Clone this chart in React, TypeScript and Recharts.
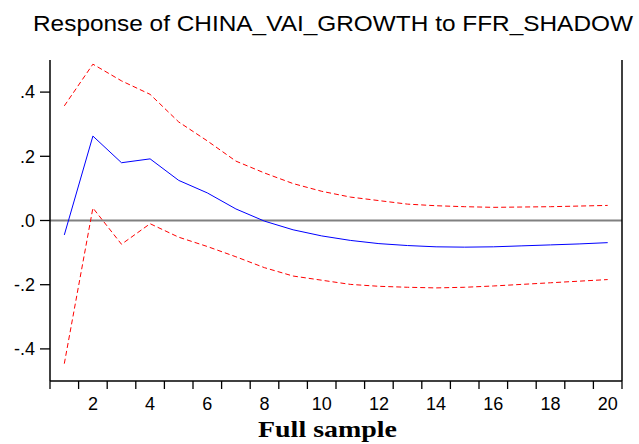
import { LineChart, Line, XAxis, YAxis, ReferenceLine } from 'recharts';

const horizons = [1, 2, 3, 4, 5, 6, 7, 8, 9, 10, 11, 12, 13, 14, 15, 16, 17, 18, 19, 20];
const response = [-0.045, 0.263, 0.18, 0.192, 0.125, 0.086, 0.036, -0.002, -0.029, -0.048, -0.062, -0.072, -0.078, -0.082, -0.083, -0.082, -0.079, -0.076, -0.073, -0.069];
const upperBand = [0.357, 0.487, 0.435, 0.393, 0.307, 0.248, 0.185, 0.148, 0.115, 0.091, 0.073, 0.062, 0.051, 0.046, 0.043, 0.041, 0.042, 0.043, 0.045, 0.047];
const lowerBand = [-0.446, 0.039, -0.074, -0.01, -0.052, -0.081, -0.113, -0.147, -0.173, -0.186, -0.199, -0.205, -0.208, -0.21, -0.208, -0.204, -0.199, -0.194, -0.189, -0.184];

const yTicks = [-0.4, -0.2, 0, 0.2, 0.4];
const yTickLabels = ['-.4', '-.2', '.0', '.2', '.4'];
const xLabelTicks = [2, 4, 6, 8, 10, 12, 14, 16, 18, 20];
const xMinorTicks = [0.5, 1.5, 2.5, 3.5, 4.5, 5.5, 6.5, 7.5, 8.5, 9.5, 10.5, 11.5, 12.5, 13.5, 14.5, 15.5, 16.5, 17.5, 18.5, 19.5, 20.5];

const data = horizons.map((h, i) => ({
  h,
  response: response[i],
  upper: upperBand[i],
  lower: lowerBand[i],
}));

const font = '"Liberation Sans", Arial, sans-serif';

const XTick = (props: any) => {
  const { x, y, payload } = props;
  const v = payload.value;
  if (xLabelTicks.includes(v)) {
    return (
      <text x={x} y={y + 29} textAnchor="middle" fontFamily={font} fontSize={18} fill="#000">
        {v}
      </text>
    );
  }
  return <line x1={x} y1={y} x2={x} y2={y + 8} stroke="#000" strokeWidth={1.3} />;
};

export default function App() {
  return (
    <div style={{ position: 'absolute', left: 0, top: 0, width: 639, height: 444, background: '#fff' }}>
      <LineChart width={639} height={444} data={data} margin={{ top: 60, right: 0, left: 0, bottom: 0 }}>
        <XAxis
          dataKey="h"
          type="number"
          domain={[0.5, 20.5]}
          ticks={[...xMinorTicks, ...xLabelTicks].sort((a, b) => a - b)}
          interval={0}
          tick={<XTick />}
          tickLine={false}
          tickSize={0}
          tickMargin={0}
          height={63}
          axisLine={{ stroke: '#000', strokeWidth: 1.5 }}
        />
        <XAxis xAxisId="top" orientation="top" dataKey="h" type="number" domain={[0.5, 20.5]} height={0} tick={false} tickLine={false} axisLine={{ stroke: '#000', strokeWidth: 1.5 }} />
        <YAxis
          type="number"
          domain={[-0.5, 0.5]}
          ticks={yTicks}
          interval={0}
          width={50}
          tickSize={10}
          tickMargin={5}
          tickFormatter={(v: number) => yTickLabels[yTicks.indexOf(v)] ?? ''}
          tick={{ fill: '#000', fontSize: 18, fontFamily: font }}
          tickLine={{ stroke: '#000', strokeWidth: 1.3 }}
          axisLine={{ stroke: '#000', strokeWidth: 1.5 }}
        />
        <YAxis yAxisId="right" orientation="right" domain={[-0.5, 0.5]} width={17} tick={false} tickLine={false} axisLine={{ stroke: '#000', strokeWidth: 1.5 }} />
        <ReferenceLine y={0} stroke="#808080" strokeWidth={2} />
        <Line dataKey="upper" stroke="#ff0000" strokeWidth={1} strokeDasharray="5 3" dot={false} isAnimationActive={false} />
        <Line dataKey="lower" stroke="#ff0000" strokeWidth={1} strokeDasharray="5 3" dot={false} isAnimationActive={false} />
        <Line dataKey="response" stroke="#0000ff" strokeWidth={1} dot={false} isAnimationActive={false} />
      </LineChart>
      <svg width={639} height={444} style={{ position: 'absolute', left: 0, top: 0, pointerEvents: 'none' }}>
        <text x={33} y={30.5} fontFamily={font} fontSize={22} textLength={600} lengthAdjust="spacingAndGlyphs" fill="#000">
          Response of CHINA_VAI_GROWTH to FFR_SHADOW
        </text>
        <text x={258} y={436.5} fontFamily='"Liberation Serif", "Times New Roman", serif' fontWeight="bold" fontSize={23} textLength={139} lengthAdjust="spacingAndGlyphs" fill="#000">
          Full sample
        </text>
      </svg>
    </div>
  );
}
